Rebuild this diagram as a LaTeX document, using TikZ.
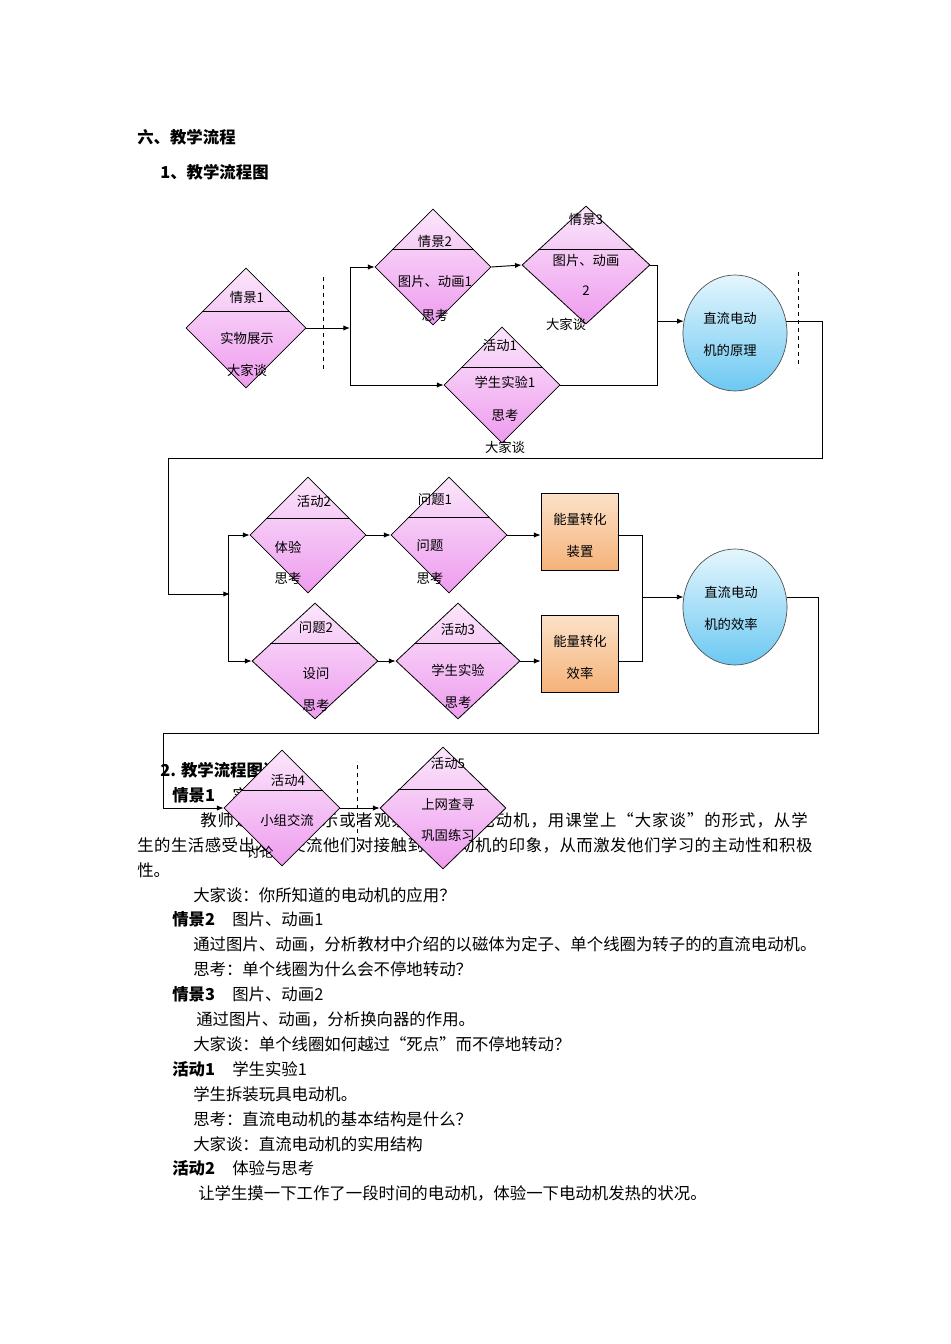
\documentclass[tikz,border=0pt]{standalone}
\usepackage{fontspec}
\setmainfont{Noto Sans CJK SC}
\usetikzlibrary{shapes.geometric,calc,arrows.meta}
\definecolor{ptop}{HTML}{FBE6FB}
\definecolor{pbot}{HTML}{EE9CEE}
\definecolor{btop}{HTML}{E4F6FD}
\definecolor{bbot}{HTML}{6CC8F2}
\definecolor{otop}{HTML}{FCE2C8}
\definecolor{obot}{HTML}{F5B27A}
\tikzset{
 dia/.style={draw=black,line width=0.6pt,diamond,inner sep=0pt,top color=ptop,bottom color=pbot},
 circ/.style={draw=black!70,line width=0.5pt,ellipse,inner sep=0pt,minimum width=78pt,minimum height=87pt,top color=btop,bottom color=bbot},
 box/.style={draw=black,line width=0.6pt,rectangle,inner sep=0pt,minimum width=57.75pt,minimum height=57.75pt,top color=otop,bottom color=obot},
 lab/.style={font=\fontsize{10}{12}\selectfont,inner sep=0pt},
 con/.style={line width=0.7pt},
 arr/.style={line width=0.7pt,-{Latex[length=5pt,width=4pt]}},
 dsh/.style={dashed,line width=0.6pt},
 bt/.style={anchor=west,inner sep=0pt,font=\fontsize{12.3}{15}\selectfont},
 hd/.style={anchor=west,inner sep=0pt,font=\fontsize{12.3}{15}\selectfont\bfseries},
}
\newcommand{\dmd}[7]{% name, cx, cy, hw, hh, liney, aspect
 \node[dia,minimum width=#4*1.5pt,minimum height=#5*1.5pt,aspect=#7] (#1) at (#2,#3) {};
 \pgfmathsetmacro{\tt}{(#3-#6)/#5}
 \draw[line width=0.6pt] ($(#1.west)!\tt!(#1.north)$) -- ($(#1.east)!\tt!(#1.north)$);}
\newcommand{\lb}[4]{\node[lab] (#1) at (#2,#3) {#4};}
\begin{document}
\begin{tikzpicture}[x=0.75pt,y=-0.75pt]
\path[use as bounding box,fill=white] (0,0) rectangle (950,1344);
% headings
\node[hd] (h1) at (137,137) {六、教学流程};
\node[hd] (h2) at (160,172) {1、教学流程图};
\node[hd] (h3) at (160,770) {2. 教学流程图说明};
% body text
\node[hd] (s1) at (172,795) {情景1}; \node[bt] (s1b) at (232,795) {实物展示};
\node[bt] (p1) at (200,820) {\addfontfeature{LetterSpace=6}教师通过实物展示或者观察生活中的电动机，用课堂上“大家谈”的形式，从学};
\node[bt] (p2) at (137,845) {\addfontfeature{LetterSpace=3}生的生活感受出发，交流他们对接触到的电动机的印象，从而激发他们学习的主动性和积极};
\node[bt] (p3) at (137,870) {性。};
\node[bt] (p4) at (193,895) {大家谈：你所知道的电动机的应用？};
\node[hd] (s2) at (172,919) {情景2}; \node[bt] (s2b) at (232,919) {图片、动画1};
\node[bt] (p5) at (193,944) {通过图片、动画，分析教材中介绍的以磁体为定子、单个线圈为转子的的直流电动机。};
\node[bt] (p6) at (193,969) {思考：单个线圈为什么会不停地转动？};
\node[hd] (s3) at (172,994) {情景3}; \node[bt] (s3b) at (232,994) {图片、动画2};
\node[bt] (p7) at (196,1019) {通过图片、动画，分析换向器的作用。};
\node[bt] (p8) at (193,1044) {大家谈：单个线圈如何越过“死点”而不停地转动？};
\node[hd] (s4) at (172,1069) {活动1}; \node[bt] (s4b) at (232,1069) {学生实验1};
\node[bt] (p9) at (193,1094) {学生拆装玩具电动机。};
\node[bt] (p10) at (193,1119) {思考：直流电动机的基本结构是什么？};
\node[bt] (p11) at (193,1144) {大家谈：直流电动机的实用结构};
\node[hd] (s5) at (172,1168) {活动2}; \node[bt] (s5b) at (232,1168) {体验与思考};
\node[bt] (p12) at (198,1193) {让学生摸一下工作了一段时间的电动机，体验一下电动机发热的状况。};
% ---------- row 1 ----------
\dmd{d1}{246}{328}{60}{60}{312}{1}
\dmd{d2}{433}{267}{58}{58}{250}{1}
\dmd{d3}{586}{265}{64}{59}{250}{1.08}
\dmd{a1}{502}{385}{58}{58}{368}{1}
\node[circ] (c1) at (735,333) {};
\coordinate (j1) at (350,328);
\coordinate (j2) at (657,321);
\draw[arr] (d1.east) -- (j1);
\draw[con] (350,267) -- (350,385);
\draw[arr] (350,267) -- (d2.west);
\draw[arr] (350,385) -- (a1.west);
\draw[arr] (d2.east) -- (d3.west);
\draw[con] (d3.east) -- (657,265) -- (657,385) -- (a1.east);
\draw[arr] (j2 |- c1.167) -- (c1.167);
\draw[dsh] (323,277) -- (323,370);
\draw[dsh] (798,272) -- (798,368);
\draw[con] (c1.13) -| (822,458) -- (168,458) -- (168,594);
\draw[arr] (168,594) -- (230,594);
% ---------- row 2 ----------
\dmd{d4}{308}{535}{58}{58}{519}{1}
\dmd{q1}{449}{535}{58}{58}{518}{1}
\dmd{q2}{315}{661}{63}{58}{644}{1.09}
\dmd{a3}{458}{661}{62}{58}{644}{1.07}
\node[box] (b1) at (579.5,531.5) {};
\node[box] (b2) at (579.5,653.5) {};
\node[circ] (c2) at (735,607) {};
\draw[con] (228,535) -- (228,661);
\draw[arr] (228,535) -- (d4.west);
\draw[arr] (228,661) -- (q2.west);
\draw[arr] (d4.east) -- (q1.west);
\draw[arr] (q1.east) -- (b1.west |- q1.east);
\draw[arr] (q2.east) -- (a3.west);
\draw[arr] (a3.east) -- (b2.west |- a3.east);
\draw[con] (b1.east |- q1.east) -- (642,535) -- (642,661) -- (b2.east |- a3.east);
\coordinate (j3) at (642,597);
\draw[arr] (j3 |- c2.169) -- (c2.169);
\draw[con] (c2.11) -| (818,733) -- (163,733) -- (163,808);
% ---------- row 3 ----------
\dmd{a4}{282}{808}{58}{58}{791}{1}
\dmd{a5}{443}{808}{63}{61}{790}{1.03}
\draw[arr] (163,808) -- (a4.west);
\draw[arr] (a4.east) -- (a5.west);
\draw[dsh] (357,765) -- (357,850);
% ---------- labels ----------
\lb{l1}{247}{297}{情景1}\lb{l2}{247}{338}{实物展示}\lb{l3}{247}{370}{大家谈}
\lb{l4}{435}{241}{情景2}\lb{l5}{435}{281}{图片、动画1}\lb{l6}{435}{315}{思考}
\lb{l7}{586}{219}{情景3}\lb{l8}{586}{260}{图片、动画}\lb{l9}{586}{291}{2}\lb{l10}{566}{324}{大家谈}
\lb{l11}{500}{345}{活动1}\lb{l12}{505}{382}{学生实验1}\lb{l13}{505}{415}{思考}\lb{l14}{505}{447}{大家谈}
\lb{l15}{730}{318}{直流电动}\lb{l16}{730}{350}{机的原理}
\lb{l17}{314}{501}{活动2}\lb{l18}{288}{547}{体验}\lb{l19}{288}{578}{思考}
\lb{l20}{435}{500}{问题1}\lb{l21}{430}{546}{问题}\lb{l22}{430}{578}{思考}
\lb{l23}{580}{519}{能量转化}\lb{l24}{580}{551}{装置}
\lb{l25}{316}{628}{问题2}\lb{l26}{316}{674}{设问}\lb{l27}{316}{705}{思考}
\lb{l28}{458}{629}{活动3}\lb{l29}{458}{670}{学生实验}\lb{l30}{458}{702}{思考}
\lb{l31}{580}{641}{能量转化}\lb{l32}{580}{673}{效率}
\lb{l33}{731}{592}{直流电动}\lb{l34}{731}{624}{机的效率}
\lb{l35}{288}{780}{活动4}\lb{l36}{287}{820}{小组交流}\lb{l37}{260}{852}{讨论}
\lb{l38}{448}{763}{活动5}\lb{l39}{448}{804}{上网查寻}\lb{l40}{448}{835}{巩固练习}
\end{tikzpicture}
\end{document}
